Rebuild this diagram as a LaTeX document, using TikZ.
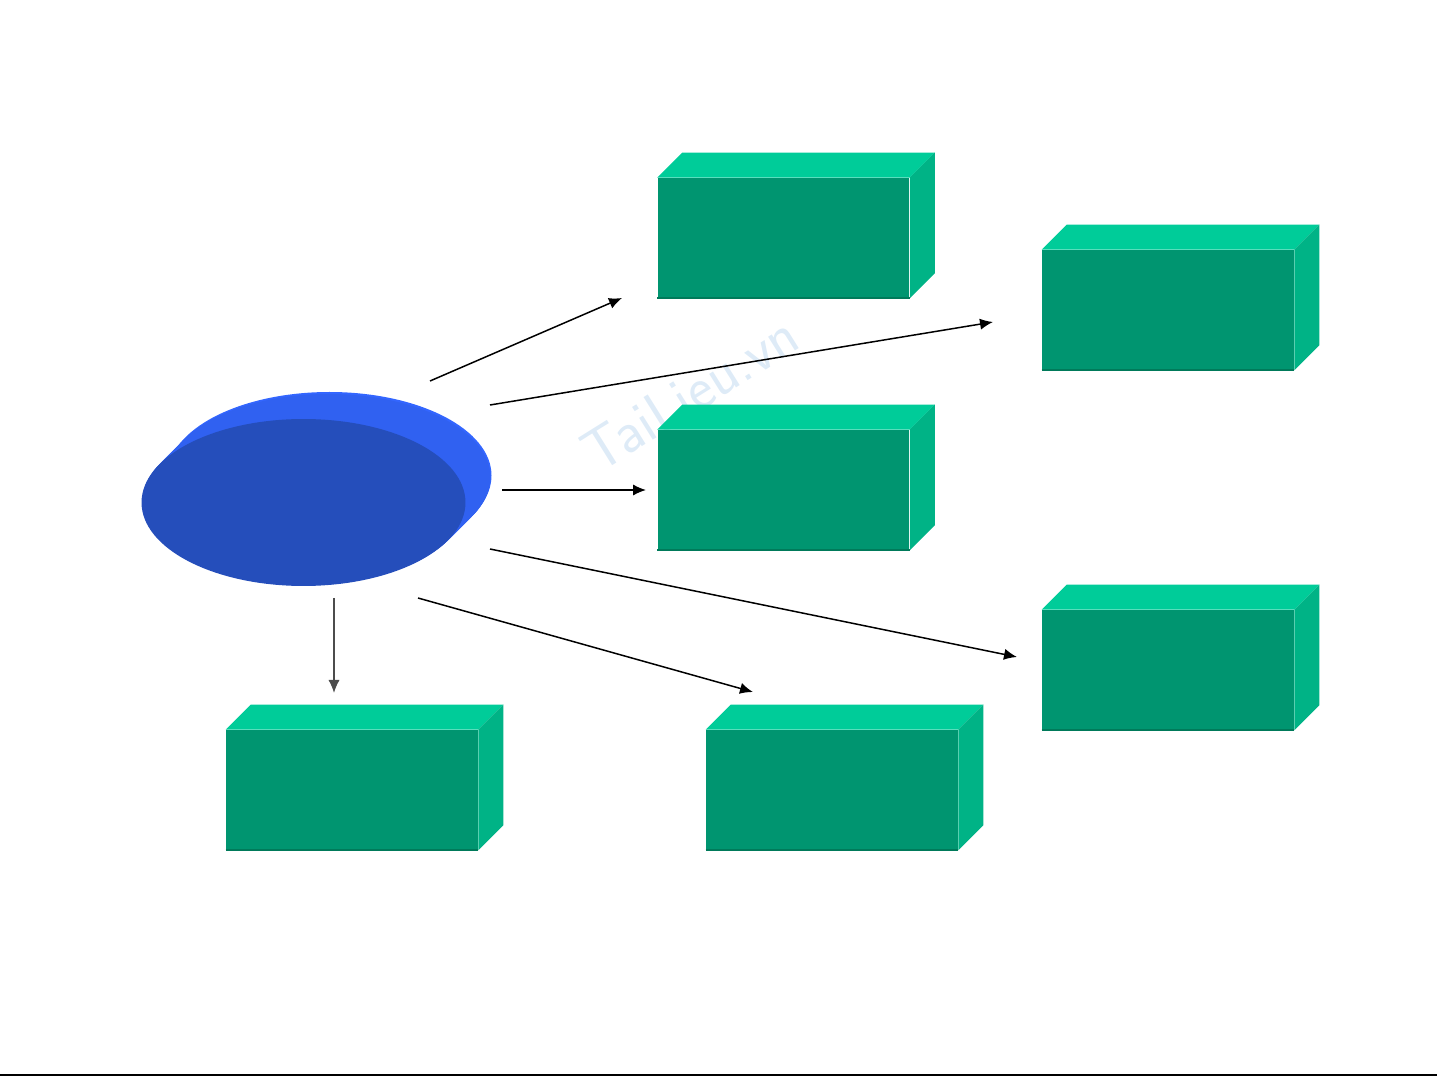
\documentclass[tikz,border=0pt]{standalone}
\usetikzlibrary{arrows.meta}
\usetikzlibrary{shapes.geometric}
\definecolor{boxfront}{RGB}{0,149,112}
\definecolor{boxtop}{RGB}{0,204,153}
\definecolor{boxside}{RGB}{0,179,134}
\definecolor{boxedge}{RGB}{0,122,90}
\definecolor{discback}{RGB}{51,102,255}
\definecolor{discfront}{RGB}{37,78,187}
\definecolor{markblue}{RGB}{222,235,247}
\tikzset{
  frontface/.style={rectangle,fill=boxfront,minimum width=5.04cm,minimum height=2.4cm,inner sep=0pt},
  topface/.style={fill=boxtop},
  sideface/.style={fill=boxside},
  disc/.style={ellipse,minimum width=6.48cm,minimum height=3.34cm,inner sep=0pt},
  link/.style={line width=0.85pt,-{Latex[length=7.4pt,width=6.4pt]}}
}
\begin{document}
\begin{tikzpicture}[x=0.02cm,y=-0.02cm]
\useasboundingbox (0,0) rectangle (1437,1077);

% Watermark
\node[rotate=32,text=markblue,font=\sffamily\fontsize{34}{34}\selectfont] (wm) at (690,393) {TaiLieu.vn};

% Disc (extruded ellipse)
\fill[discback] (329.5,475.5) ellipse [x radius=162,y radius=83.5];
\foreach \d in {25,24,...,1} {
  \fill[discback!80!discfront] (303.5+\d,502.5-\d) ellipse [x radius=162,y radius=83.5];
}
\node[disc,fill=discfront] (center) at (303.5,502.5) {};

% Boxes
\foreach \n/\cx/\cy in {top/783.5/238, upright/1168/310, mid/783.5/490, lowright/1168/670, botleft/352/790, botmid/832/790} {
  \node[frontface] (\n) at (\cx,\cy) {};
  \fill[topface] (\n.north west) -- ++(25,-25) -- ([shift={(25,-25)}]\n.north east) -- (\n.north east) -- cycle;
  \fill[sideface] (\n.north east) -- ++(25,-25) -- ([shift={(25,-25)}]\n.south east) -- (\n.south east) -- cycle;
  \draw[boxedge,line width=1pt] (\n.south west) -- (\n.south east);
}

% Arrow ends
\coordinate (s1) at (430,381);  \coordinate (e1) at (622,298);
\coordinate (s2) at (490,405);  \coordinate (e2) at (993,322);
\coordinate (s3) at (502,490);  \coordinate (e3) at (646,490);
\coordinate (s4) at (490,549);  \coordinate (e4) at (1017,657);
\coordinate (s5) at (418,598);  \coordinate (e5) at (753,692);
\coordinate (s6) at (334,598);  \coordinate (e6) at (334,693);

% Arrows
\foreach \i in {1,...,5} {
  \draw[link] (s\i) -- (e\i);
}
\draw[link,black!70] (s6) -- (e6);

% Bottom rule
\draw[line width=1.2pt] (0,1075) -- (1437,1075);
\end{tikzpicture}
\end{document}
